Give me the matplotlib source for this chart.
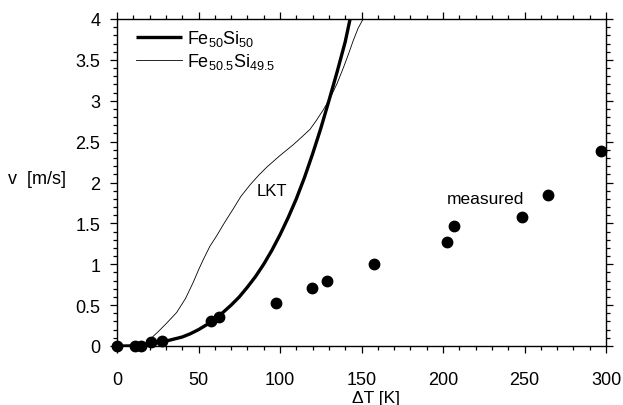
import matplotlib
matplotlib.use("Agg")
import matplotlib.pyplot as plt
from matplotlib.ticker import MultipleLocator, FuncFormatter

plt.rcParams['font.family'] = ['Liberation Sans', 'DejaVu Sans']
plt.rcParams['mathtext.fontset'] = 'custom'
plt.rcParams['mathtext.rm'] = 'Liberation Sans'
plt.rcParams['mathtext.it'] = 'Liberation Sans'

# LKT theory, Fe50Si50 (thick)
thick_x = [0, 5, 10, 15, 20, 25, 30, 35, 40, 45, 50, 55, 60, 65, 70, 75, 80, 85, 90, 95,
           100, 105, 110, 115, 120, 125, 130, 135, 140, 143]
thick_y = [0, 0, 0.002, 0.01, 0.02, 0.04, 0.06, 0.085, 0.11, 0.15, 0.2, 0.26, 0.33, 0.41, 0.5,
           0.6, 0.72, 0.85, 1.0, 1.17, 1.36, 1.57, 1.8, 2.06, 2.35, 2.66, 3.0, 3.35, 3.72, 4.0]

# LKT theory, Fe50.5Si49.5 (thin)
thin_x = [0, 5, 10, 15, 18, 20, 22.3, 25, 30, 36.6, 42, 46.8, 50, 53, 57, 61.2, 66, 71.4, 76,
          82, 87, 92, 100, 108, 113, 118.4, 122, 126.6, 130.7, 135, 139, 142, 145, 148, 151]
thin_y = [0, 0, 0, 0.01, 0.04, 0.07, 0.12, 0.17, 0.27, 0.41, 0.58, 0.78, 0.93, 1.06, 1.22, 1.35,
          1.51, 1.68, 1.83, 1.98, 2.09, 2.19, 2.33, 2.46, 2.55, 2.65, 2.75, 2.89, 3.03, 3.21, 3.41,
          3.57, 3.74, 3.89, 4.0]

# measured points
meas_x = [0, 11, 15, 21, 27.4, 57.7, 62.6, 97.5, 119.8, 128.6, 157.9, 202.2, 206.7, 248.3, 264.2, 296.7]
meas_y = [0, 0, 0, 0.045, 0.065, 0.31, 0.36, 0.52, 0.71, 0.80, 1.0, 1.27, 1.47, 1.58, 1.85, 2.38]

legend_labels = [r'Fe$_{50}$Si$_{50}$', r'Fe$_{50.5}$Si$_{49.5}$']

fig = plt.figure(figsize=(6.23, 4.06), dpi=100)
ax = fig.add_axes([117/623, 1-347/406, (606-117)/623, (347-20)/406])

l1, = ax.plot(thick_x, thick_y, color='black', lw=2.4, solid_capstyle='butt', zorder=3)
l2, = ax.plot(thin_x, thin_y, color='black', lw=0.6, zorder=3)
ax.plot(meas_x, meas_y, 'o', color='black', ms=7.5, clip_on=False, zorder=4)

ax.set_xlim(0, 300)
ax.set_ylim(0, 4)

ax.xaxis.set_major_locator(MultipleLocator(50))
ax.xaxis.set_minor_locator(MultipleLocator(10))
ax.yaxis.set_major_locator(MultipleLocator(0.5))
ax.yaxis.set_minor_locator(MultipleLocator(0.1))
ax.yaxis.set_major_formatter(FuncFormatter(lambda v, p: f'{v:g}'))

ax.tick_params(which='both', direction='out', top=True, right=True, width=0.9, color='black')
ax.tick_params(which='major', length=5)
ax.tick_params(which='minor', length=3)
ax.tick_params(axis='x', which='major', pad=13, labelsize=13)
ax.tick_params(axis='y', which='major', pad=7, labelsize=13)
for s in ax.spines.values():
    s.set_linewidth(1.0)

leg = ax.legend([l1, l2], legend_labels, loc='upper left', bbox_to_anchor=(0.012, 1.01),
                frameon=False, fontsize=13, handlelength=2.6, handletextpad=0.25,
                labelspacing=0.15, borderaxespad=0.3)

ax.text(95, 1.9, 'LKT', fontsize=12, ha='center', va='center')
ax.text(226, 1.81, 'measured', fontsize=12.5, ha='center', va='center')

fig.text(8/623, 1-180/406, 'v  [m/s]', fontsize=13, ha='left', va='center')
fig.text((376)/623, 1-399/406, r'ΔT [K]', fontsize=12.5, ha='center', va='center')

fig.savefig('out.png', dpi=100)
